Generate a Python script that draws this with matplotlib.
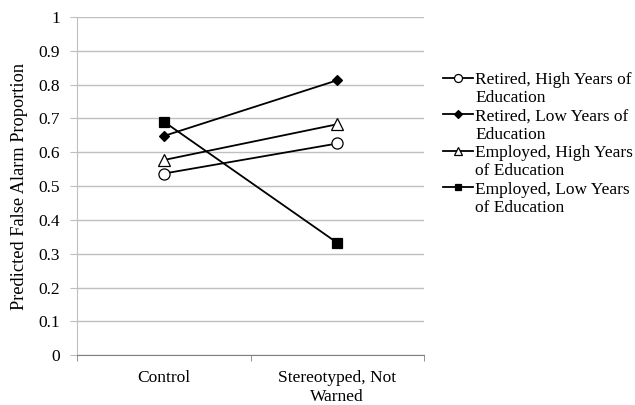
import matplotlib
matplotlib.use("Agg")
import matplotlib.pyplot as plt
from matplotlib.lines import Line2D
import numpy as np

categories = ["Control", "Stereotyped, Not\nWarned"]
series_names = ["Retired, High Years of\nEducation",
                "Retired, Low Years of\nEducation",
                "Employed, High Years\nof Education",
                "Employed, Low Years\nof Education"]
retired_high = [0.537, 0.626]
retired_low = [0.648, 0.813]
employed_high = [0.577, 0.683]
employed_low = [0.691, 0.332]
y_ticks = [0, 0.1, 0.2, 0.3, 0.4, 0.5, 0.6, 0.7, 0.8, 0.9, 1]

plt.rcParams['font.family'] = ['Liberation Serif', 'DejaVu Serif']

fig = plt.figure(figsize=(6.35, 4.05), dpi=100)
ax = fig.add_axes([0.121, 0.123, 0.547, 0.835])

x = np.arange(len(categories))
styles = [
    dict(marker='o', markerfacecolor='white', markersize=8),
    dict(marker='D', markerfacecolor='black', markersize=5.5),
    dict(marker='^', markerfacecolor='white', markersize=8),
    dict(marker='s', markerfacecolor='black', markersize=6.5),
]
lines = []
for vals, name, st in zip([retired_high, retired_low, employed_high, employed_low], series_names, styles):
    ln, = ax.plot(x, vals, color='black', linewidth=1.3, markeredgecolor='black',
                  markeredgewidth=0.9, label=name, **st)
    lines.append(ln)

ax.set_xlim(-0.5, 1.5)
ax.set_ylim(0, 1)
ax.set_yticks(y_ticks)
ax.set_yticklabels([f"{t:g}" for t in y_ticks])
ax.yaxis.grid(True, color='#bfbfbf', linewidth=1)
ax.set_axisbelow(True)
ax.set_xticks(x)
ax.set_xticklabels(categories)
ax.set_xticks([-0.5, 0.5, 1.5], minor=True)
ax.tick_params(axis='x', which='major', length=0, pad=11, labelsize=12.5)
ax.tick_params(axis='x', which='minor', length=4, color='#808080', direction='out')
ax.tick_params(axis='y', length=5, color='#bfbfbf', labelsize=12.5, pad=7)
for s in ['top', 'right']:
    ax.spines[s].set_visible(False)
ax.spines['left'].set_color('#bfbfbf')
ax.spines['bottom'].set_color('#808080')
ax.set_ylabel("Predicted False Alarm Proportion", fontsize=13.2, labelpad=7.5)

# legend: handle aligned with the first line of each wrapped label
handles, labels = [], []
blank = Line2D([], [], linestyle='none', marker='none')
for ln, name in zip(lines, series_names):
    first, second = name.split("\n")
    handles += [ln, blank]
    labels += [first, second]

leg = fig.legend(handles, labels, loc='upper left', bbox_to_anchor=(0.684, 0.845),
                 frameon=False, fontsize=12.5, handlelength=1.75, handletextpad=0.1,
                 labelspacing=0.125, borderpad=0, markerscale=0.72)

fig.savefig("out.png", dpi=100)
